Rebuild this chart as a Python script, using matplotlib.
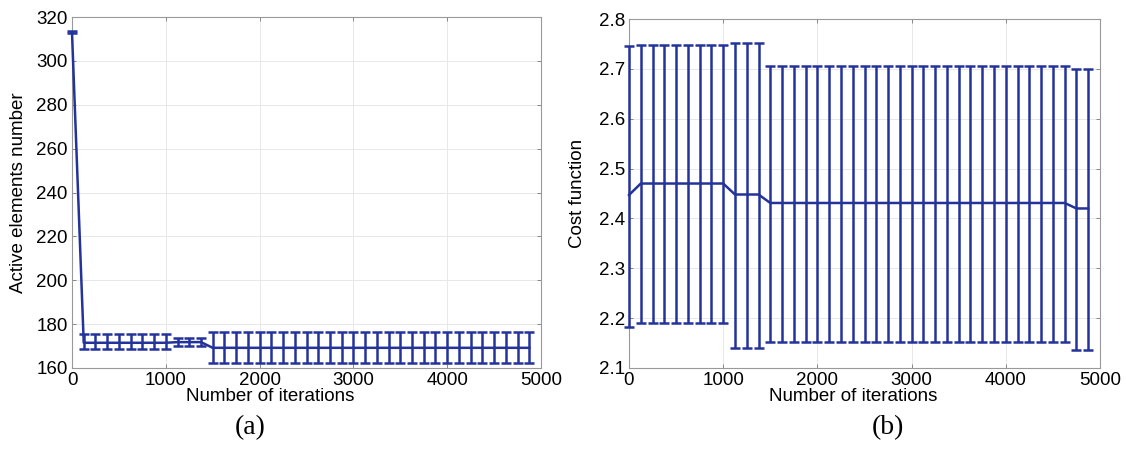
import matplotlib.pyplot as plt
import numpy as np

iterations = [0, 125, 250, 375, 500, 625, 750, 875, 1000, 1125,
              1250, 1375, 1500, 1625, 1750, 1875, 2000, 2125, 2250, 2375,
              2500, 2625, 2750, 2875, 3000, 3125, 3250, 3375, 3500, 3625,
              3750, 3875, 4000, 4125, 4250, 4375, 4500, 4625, 4750, 4875]

# (a) active elements number
active_mean = [313.0] + [171.5] * 8 + [171.8] * 3 + [169.2] * 28
active_low = [312.6] + [168.5] * 8 + [170.0] * 3 + [162.3] * 28
active_high = [313.4] + [175.4] * 8 + [173.9] * 3 + [176.2] * 28

# (b) cost function
cost_mean = [2.447] + [2.470] * 8 + [2.448] * 3 + [2.431] * 26 + [2.420] * 2
cost_low = [2.182] + [2.191] * 8 + [2.141] * 3 + [2.153] * 26 + [2.137] * 2
cost_high = [2.745] + [2.748] * 8 + [2.751] * 3 + [2.706] * 26 + [2.700] * 2

x_ticks = [0, 1000, 2000, 3000, 4000, 5000]
active_ticks = [160, 180, 200, 220, 240, 260, 280, 300, 320]
cost_ticks = [2.1, 2.2, 2.3, 2.4, 2.5, 2.6, 2.7, 2.8]

LINE_COLOR = "#24339a"
FONT_SIZE = 13.5


def style_axis(ax, yticks, ylim):
    ax.set_xlim(0, 5000)
    ax.set_ylim(*ylim)
    ax.set_xticks(x_ticks)
    ax.set_yticks(yticks)
    ax.grid(True, color="#e8e8e8", linewidth=0.7)
    ax.set_axisbelow(True)
    ax.tick_params(direction="in", length=3, width=0.6, color="#777777",
                   top=True, right=True, labelsize=FONT_SIZE, pad=3)
    for spine in ax.spines.values():
        spine.set_color("#999999")
        spine.set_linewidth(0.8)


def plot_errors(ax, mean, low, high):
    x = np.array(iterations)
    m = np.array(mean)
    err = [m - np.array(low), np.array(high) - m]
    ax.errorbar(x, m, yerr=err, color=LINE_COLOR, linewidth=1.8,
                elinewidth=1.8, capsize=3.4, capthick=1.8, clip_on=False, zorder=3)


def main():
    plt.rcParams['font.family'] = ['Liberation Sans', 'DejaVu Sans']
    fig = plt.figure(figsize=(11.26, 4.5), dpi=100)

    ax_a = fig.add_axes([72 / 1126, 1 - 368 / 450, 469 / 1126, 351 / 450])
    ax_b = fig.add_axes([629 / 1126, 1 - 368 / 450, 471 / 1126, 349 / 450])

    plot_errors(ax_a, active_mean, active_low, active_high)
    style_axis(ax_a, active_ticks, (160, 320))
    ax_a.set_ylabel("Active elements number", fontsize=FONT_SIZE)
    ax_a.yaxis.set_label_coords((27 - 72) / 469, 0.5)
    ax_a.set_xlabel("Number of iterations", fontsize=FONT_SIZE)
    ax_a.xaxis.set_label_coords((270 - 72) / 469, -0.058)

    plot_errors(ax_b, cost_mean, cost_low, cost_high)
    style_axis(ax_b, cost_ticks, (2.1, 2.8))
    ax_b.set_ylabel("Cost function", fontsize=FONT_SIZE)
    ax_b.yaxis.set_label_coords((586 - 629) / 471, 0.5)
    ax_b.set_xlabel("Number of iterations", fontsize=FONT_SIZE)
    ax_b.xaxis.set_label_coords((853 - 629) / 471, -0.058)

    fig.text(250 / 1126, 1 - 428 / 450, "(a)", fontsize=20, ha="center",
             va="center", family="Liberation Serif")
    fig.text(888 / 1126, 1 - 428 / 450, "(b)", fontsize=20, ha="center",
             va="center", family="Liberation Serif")

    fig.savefig("out.png", dpi=100)


if __name__ == "__main__":
    main()
